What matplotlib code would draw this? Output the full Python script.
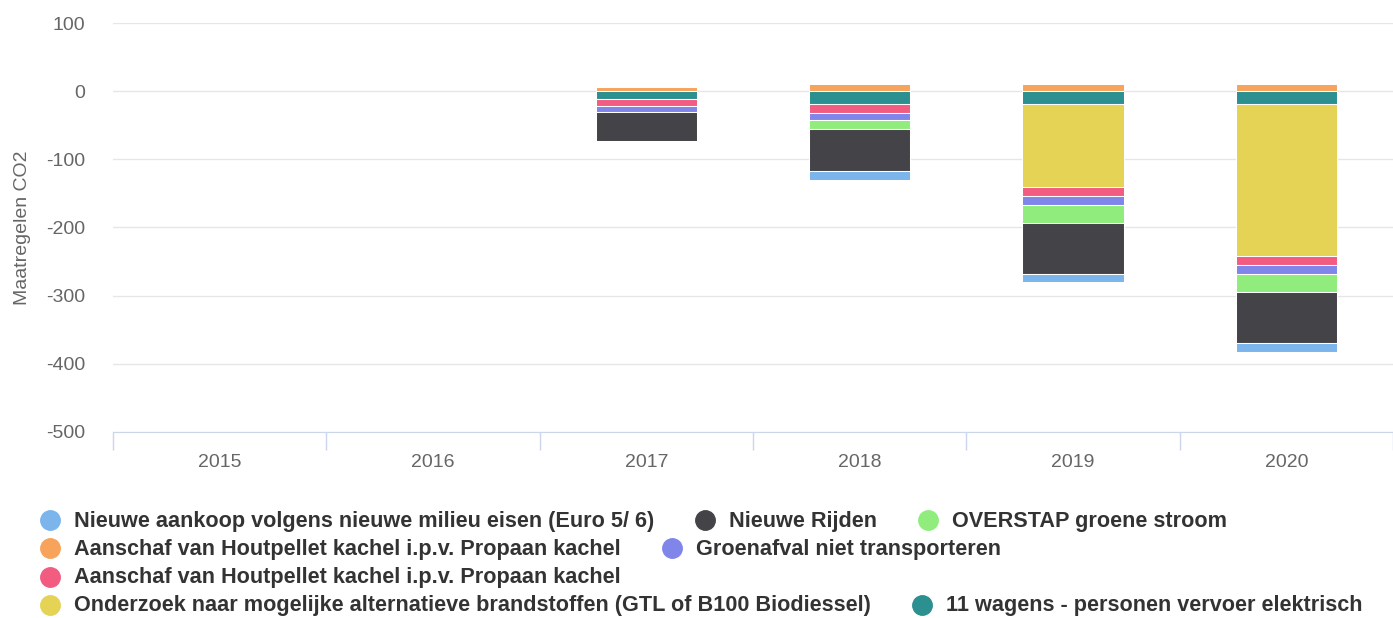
import numpy as np
import matplotlib
matplotlib.use("Agg")
import matplotlib.pyplot as plt
from matplotlib.lines import Line2D

plt.rcParams['font.family'] = ['Liberation Sans', 'DejaVu Sans']
plt.rcParams['axes.unicode_minus'] = False

# jaren en waarden per maatregel (CO2)
jaren = ['2015', '2016', '2017', '2018', '2019', '2020']
nieuwe_aankoop = [0, 0, 0, -13, -12.5, -13]
nieuwe_rijden = [0, 0, -43, -61, -74.5, -74.5]
overstap_stroom = [0, 0, 0, -13, -26, -26]
houtpellet_1 = [0, 0, 6, 11, 11, 11]
groenafval = [0, 0, -8, -11, -13.5, -13.5]
houtpellet_2 = [0, 0, -11, -13, -13.5, -13.5]
onderzoek_brandstof = [0, 0, 0, 0, -121.5, -222.5]
wagens_elektrisch = [0, 0, -11, -19, -19, -19]

series = [
    ('Nieuwe aankoop volgens nieuwe milieu eisen (Euro 5/ 6)', nieuwe_aankoop, '#7cb5ec'),
    ('Nieuwe Rijden', nieuwe_rijden, '#434348'),
    ('OVERSTAP groene stroom', overstap_stroom, '#90ed7d'),
    ('Aanschaf van Houtpellet kachel i.p.v. Propaan kachel', houtpellet_1, '#f7a35c'),
    ('Groenafval niet transporteren', groenafval, '#8085e9'),
    ('Aanschaf van Houtpellet kachel i.p.v. Propaan kachel', houtpellet_2, '#f15c80'),
    ('Onderzoek naar mogelijke alternatieve brandstoffen (GTL of B100 Biodiessel)', onderzoek_brandstof, '#e4d354'),
    ('11 wagens - personen vervoer elektrisch', wagens_elektrisch, '#2b908f'),
]
# volgorde van stapelen vanaf 0 naar beneden
stapel_volgorde = [3, 7, 6, 5, 4, 2, 1, 0]

W, H = 1393, 618
fig = plt.figure(figsize=(W / 100, H / 100), dpi=100)
ax = fig.add_axes([113 / W, (H - 432) / H, 1280 / W, 409 / H])

x = np.arange(len(jaren))
pos_bottom = np.zeros(len(jaren))
neg_bottom = np.zeros(len(jaren))
for idx in stapel_volgorde:
    naam, vals, kleur = series[idx]
    vals = np.array(vals, dtype=float)
    for i in range(len(jaren)):
        v = vals[i]
        if v == 0:
            continue
        if v > 0:
            b = pos_bottom[i]
            pos_bottom[i] += v
        else:
            b = neg_bottom[i]
            neg_bottom[i] += v
        ax.bar(x[i], v, bottom=b, width=0.475, color=kleur,
               edgecolor='white', linewidth=0.75, zorder=3)

ax.set_xlim(-0.5, len(jaren) - 0.5)
ax.set_ylim(-500, 100)
ax.set_yticks(range(-500, 101, 100))
ax.grid(axis='y', color='#e6e6e6', linewidth=1, zorder=0)
for s in ['top', 'right', 'left']:
    ax.spines[s].set_visible(False)
ax.spines['bottom'].set_color('#ccd6eb')
ax.spines['bottom'].set_zorder(4)
ax.tick_params(axis='y', length=0, pad=20, labelsize=14, labelcolor='#666666')
ax.set_xticks(x)
ax.set_xticklabels(jaren)
ax.tick_params(axis='x', which='major', length=0, pad=16, labelsize=14, labelcolor='#666666')
ax.set_xticks(np.arange(-0.5, len(jaren) - 0.4, 1), minor=True)
ax.tick_params(axis='x', which='minor', length=13, color='#ccd6eb', width=1)
ax.set_ylabel('Maatregelen CO2', fontsize=14, color='#666666')
ax.yaxis.set_label_coords(-82 / 1280, 0.5)

# legenda (Highcharts-achtige opmaak)
legend_items = [(0, 50, 520), (1, 705, 520), (2, 928, 520),
                (3, 50, 548), (4, 672, 548),
                (5, 50, 577),
                (6, 50, 605), (7, 922, 605)]
for idx, px, py in legend_items:
    naam, _, kleur = series[idx]
    fig.add_artist(Line2D([px / W], [1 - py / H], marker='o', markersize=14,
                          color=kleur, linestyle='none', transform=fig.transFigure))
    fig.text((px + 24) / W, 1 - (py + 1) / H, naam, fontsize=15.6, fontweight='bold',
             color='#333333', va='center', ha='left')

fig.savefig('out.png', dpi=100, facecolor='white')
